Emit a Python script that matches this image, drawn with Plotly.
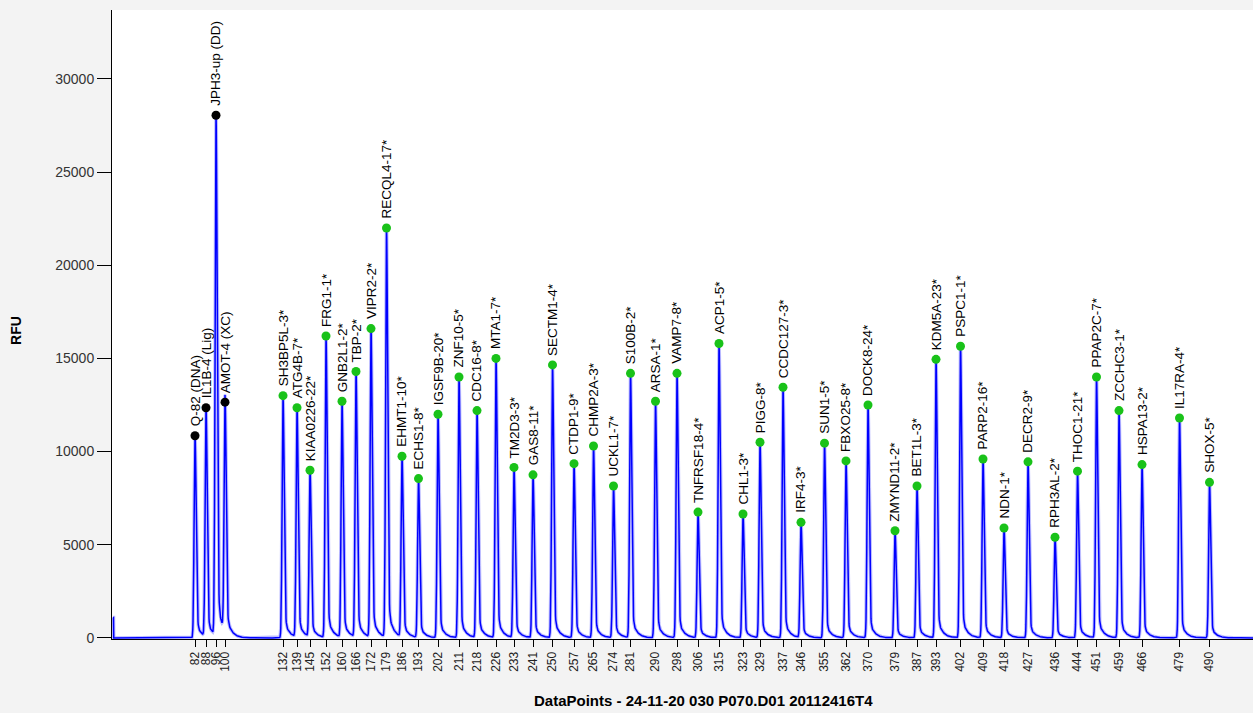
import numpy as np
import plotly.graph_objects as go

# Peak table: probe name, fragment size (nt), scan position (data points), peak height (RFU)
probes = [
    "Q-82 (DNA)", "IL1B-4 (Lig)", "JPH3-up (DD)", "AMOT-4 (XC)",
    "SH3BP5L-3*", "ATG4B-7*", "KIAA0226-22*", "FRG1-1*", "GNB2L1-2*", "TBP-2*",
    "VIPR2-2*", "RECQL4-17*", "EHMT1-10*", "ECHS1-8*", "IGSF9B-20*", "ZNF10-5*",
    "CDC16-8*", "MTA1-7*", "TM2D3-3*", "GAS8-11*", "SECTM1-4*", "CTDP1-9*",
    "CHMP2A-3*", "UCKL1-7*", "S100B-2*", "ARSA-1*", "VAMP7-8*", "TNFRSF18-4*",
    "ACP1-5*", "CHL1-3*", "PIGG-8*", "CCDC127-3*", "IRF4-3*", "SUN1-5*",
    "FBXO25-8*", "DOCK8-24*", "ZMYND11-2*", "BET1L-3*", "KDM5A-23*", "PSPC1-1*",
    "PARP2-16*", "NDN-1*", "DECR2-9*", "RPH3AL-2*", "THOC1-21*", "PPAP2C-7*",
    "ZCCHC3-1*", "HSPA13-2*", "IL17RA-4*", "SHOX-5*",
]
sizes = [
    "82", "88", "96", "100",
    "132", "139", "145", "152", "160", "166", "172", "179", "186", "193", "202",
    "211", "218", "226", "233", "241", "250", "257", "265", "274", "281", "290",
    "298", "306", "315", "323", "329", "337", "346", "355", "362", "370", "379",
    "387", "393", "402", "409", "418", "427", "436", "444", "451", "459", "466",
    "479", "490",
]
scan_pos = [
    332, 376, 416, 452,
    684, 740, 792, 856, 920, 976, 1036, 1098, 1160, 1226, 1304, 1388,
    1460, 1536, 1608, 1684, 1762, 1848, 1926, 2006, 2074, 2174, 2260, 2344,
    2428, 2524, 2592, 2684, 2756, 2850, 2936, 3024, 3132, 3220, 3296, 3394,
    3484, 3568, 3664, 3772, 3862, 3938, 4028, 4120, 4270, 4390,
]
heights = [
    10850, 12350, 28050, 12650,
    13000, 12350, 9000, 16200, 12700, 14300, 16600, 22000, 9750, 8550, 12000, 14000,
    12200, 15000, 9150, 8750, 14650, 9350, 10300, 8150, 14200, 12700, 14200, 6750,
    15800, 6650, 10500, 13450, 6200, 10450, 9500, 12500, 5750, 8150, 14950, 15650,
    9600, 5900, 9450, 5400, 8950, 14000, 12200, 9300, 11800, 8350,
]
control_count = 4          # leading control fragments (black markers)
start_level = 1100         # signal level at the first recorded scan
start_scan = 4
last_scan = 4564
y_ticks = [0, 5000, 10000, 15000, 20000, 25000, 30000]

FONT = "Liberation Sans, Arial, sans-serif"

# Build the electropherogram trace from the peak table
scan = np.arange(start_scan, last_scan + 1, dtype=float)
signal = np.zeros_like(scan)
signal[scan <= start_scan + 2] = start_level
for pos, h in zip(scan_pos, heights):
    d = scan - pos
    left = np.exp(-(d / 5.0) ** 2)
    right = 0.9 * np.exp(-(d / 6.5) ** 2) + 0.1 * np.exp(-np.clip(d, 0, None) / 18.0)
    signal += h * np.where(d < 0, left, right)

marker_colors = ["#000000"] * control_count + ["#19c219"] * (len(probes) - control_count)

fig = go.Figure()
fig.add_trace(go.Scatter(
    x=scan, y=signal, mode="lines",
    line=dict(color="rgba(70,70,255,0.35)", width=3.5),
    hoverinfo="skip", showlegend=False,
))
fig.add_trace(go.Scatter(
    x=scan, y=signal, mode="lines",
    line=dict(color="#0000ff", width=1.5),
    hoverinfo="skip", showlegend=False,
))
fig.add_trace(go.Scatter(
    x=scan_pos, y=heights, mode="markers",
    marker=dict(color=marker_colors, size=9, line=dict(width=0)),
    text=probes, showlegend=False,
))

for name, pos, h in zip(probes, scan_pos, heights):
    fig.add_annotation(
        x=pos, y=h, xref="x", yref="y", text=name, showarrow=False,
        textangle=-90, xanchor="center", yanchor="bottom", yshift=7,
        font=dict(family=FONT, size=13.5, color="#000000"),
    )

fig.add_annotation(
    x=0.518, y=-0.097, xref="paper", yref="paper",
    text="<b>DataPoints - 24-11-20 030 P070.D01 20112416T4</b>",
    showarrow=False, xanchor="center", yanchor="middle",
    font=dict(family=FONT, size=15, color="#000000"),
)
fig.add_annotation(
    x=-0.084, y=0.49, xref="paper", yref="paper", text="<b>RFU</b>",
    textangle=-90, showarrow=False, xanchor="center", yanchor="middle",
    font=dict(family=FONT, size=14, color="#000000"),
)

fig.update_layout(
    width=1253, height=713,
    margin=dict(l=112, r=0, t=10, b=74),
    paper_bgcolor="#f3f3f3", plot_bgcolor="#ffffff",
    font=dict(family=FONT, size=12, color="#222222"),
    xaxis=dict(
        range=[0, last_scan], showgrid=False, zeroline=False,
        showline=True, linecolor="#000000", linewidth=1,
        tickmode="array", tickvals=scan_pos, ticktext=sizes,
        ticks="outside", ticklen=7, tickcolor="#000000", tickwidth=1,
        tickangle=-90, tickfont=dict(family=FONT, size=12, color="#222222"),
    ),
    yaxis=dict(
        range=[-60, 33700], showgrid=False, zeroline=False,
        showline=True, linecolor="#000000", linewidth=1,
        tickmode="array", tickvals=y_ticks, ticktext=[str(v) for v in y_ticks],
        ticks="outside", ticklen=14, tickcolor="#000000", tickwidth=1,
        tickfont=dict(family=FONT, size=14, color="#333333"),
    ),
)

fig.write_html("out.html", config={"displayModeBar": False})
